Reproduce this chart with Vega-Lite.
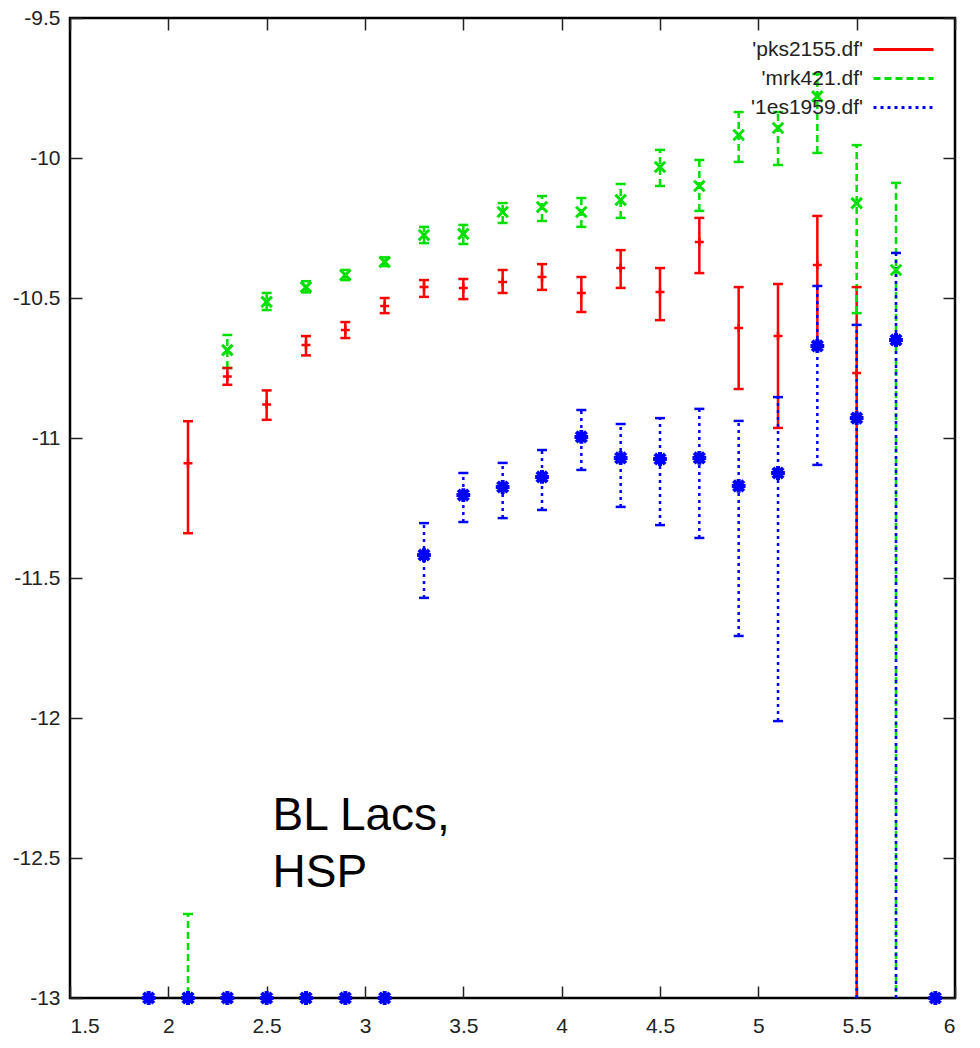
{
  "$schema": "https://vega.github.io/schema/vega-lite/v6.json",
  "width": 885,
  "height": 980,
  "autosize": {"type": "none"},
  "padding": {"left": 70, "top": 18, "right": 25, "bottom": 50},
  "background": "white",
  "config": {
    "locale": {"number": {"decimal": ".", "thousands": ",", "grouping": [3], "currency": ["$", ""], "minus": "-"}},
    "view": {"stroke": "black", "strokeWidth": 2.5},
    "axis": {"grid": false, "domain": false, "tickColor": "#222", "tickSize": -12, "tickWidth": 1.5, "labelFont": "Liberation Sans", "labelFontSize": 21, "labelColor": "#222", "title": null},
    "legend": {"labelFont": "Liberation Sans", "labelFontSize": 21, "labelColor": "#222", "labelLimit": 0, "title": null}
  },
  "datasets": {
    "obs": [
      {"series": "'pks2155.df'", "x": 2.1, "y": -11.09, "lo": -11.34, "hi": -10.94},
      {"series": "'pks2155.df'", "x": 2.3, "y": -10.78, "lo": -10.81, "hi": -10.75},
      {"series": "'pks2155.df'", "x": 2.5, "y": -10.88, "lo": -10.935, "hi": -10.83},
      {"series": "'pks2155.df'", "x": 2.7, "y": -10.668, "lo": -10.705, "hi": -10.636},
      {"series": "'pks2155.df'", "x": 2.9, "y": -10.614, "lo": -10.643, "hi": -10.586},
      {"series": "'pks2155.df'", "x": 3.1, "y": -10.529, "lo": -10.554, "hi": -10.5},
      {"series": "'pks2155.df'", "x": 3.3, "y": -10.461, "lo": -10.496, "hi": -10.436},
      {"series": "'pks2155.df'", "x": 3.5, "y": -10.464, "lo": -10.504, "hi": -10.432},
      {"series": "'pks2155.df'", "x": 3.7, "y": -10.443, "lo": -10.482, "hi": -10.4},
      {"series": "'pks2155.df'", "x": 3.9, "y": -10.425, "lo": -10.471, "hi": -10.379},
      {"series": "'pks2155.df'", "x": 4.1, "y": -10.482, "lo": -10.55, "hi": -10.425},
      {"series": "'pks2155.df'", "x": 4.3, "y": -10.393, "lo": -10.464, "hi": -10.329},
      {"series": "'pks2155.df'", "x": 4.5, "y": -10.479, "lo": -10.579, "hi": -10.393},
      {"series": "'pks2155.df'", "x": 4.7, "y": -10.3, "lo": -10.411, "hi": -10.214},
      {"series": "'pks2155.df'", "x": 4.9, "y": -10.607, "lo": -10.825, "hi": -10.461},
      {"series": "'pks2155.df'", "x": 5.1, "y": -10.636, "lo": -10.964, "hi": -10.45},
      {"series": "'pks2155.df'", "x": 5.3, "y": -10.382, "lo": -10.66, "hi": -10.207},
      {"series": "'pks2155.df'", "x": 5.5, "y": -10.768, "lo": -14, "hi": -10.461},
      {"series": "'mrk421.df'", "x": 2.1, "y": -13.0, "lo": -13.3, "hi": -12.7},
      {"series": "'mrk421.df'", "x": 2.3, "y": -10.686, "lo": -10.75, "hi": -10.632},
      {"series": "'mrk421.df'", "x": 2.5, "y": -10.514, "lo": -10.543, "hi": -10.482},
      {"series": "'mrk421.df'", "x": 2.7, "y": -10.461, "lo": -10.48, "hi": -10.44},
      {"series": "'mrk421.df'", "x": 2.9, "y": -10.418, "lo": -10.436, "hi": -10.4},
      {"series": "'mrk421.df'", "x": 3.1, "y": -10.371, "lo": -10.386, "hi": -10.355},
      {"series": "'mrk421.df'", "x": 3.3, "y": -10.275, "lo": -10.304, "hi": -10.246},
      {"series": "'mrk421.df'", "x": 3.5, "y": -10.271, "lo": -10.307, "hi": -10.239},
      {"series": "'mrk421.df'", "x": 3.7, "y": -10.193, "lo": -10.232, "hi": -10.161},
      {"series": "'mrk421.df'", "x": 3.9, "y": -10.175, "lo": -10.225, "hi": -10.136},
      {"series": "'mrk421.df'", "x": 4.1, "y": -10.193, "lo": -10.246, "hi": -10.143},
      {"series": "'mrk421.df'", "x": 4.3, "y": -10.15, "lo": -10.214, "hi": -10.093},
      {"series": "'mrk421.df'", "x": 4.5, "y": -10.032, "lo": -10.1, "hi": -9.971},
      {"series": "'mrk421.df'", "x": 4.7, "y": -10.1, "lo": -10.189, "hi": -10.007},
      {"series": "'mrk421.df'", "x": 4.9, "y": -9.918, "lo": -10.014, "hi": -9.836},
      {"series": "'mrk421.df'", "x": 5.1, "y": -9.893, "lo": -10.025, "hi": -9.836},
      {"series": "'mrk421.df'", "x": 5.3, "y": -9.78, "lo": -9.982, "hi": -9.7},
      {"series": "'mrk421.df'", "x": 5.5, "y": -10.161, "lo": -10.554, "hi": -9.954},
      {"series": "'mrk421.df'", "x": 5.7, "y": -10.4, "lo": -14, "hi": -10.089},
      {"series": "'1es1959.df'", "x": 1.9, "y": -13.0, "lo": null, "hi": null},
      {"series": "'1es1959.df'", "x": 2.1, "y": -13.0, "lo": null, "hi": null},
      {"series": "'1es1959.df'", "x": 2.3, "y": -13.0, "lo": null, "hi": null},
      {"series": "'1es1959.df'", "x": 2.5, "y": -13.0, "lo": null, "hi": null},
      {"series": "'1es1959.df'", "x": 2.7, "y": -13.0, "lo": null, "hi": null},
      {"series": "'1es1959.df'", "x": 2.9, "y": -13.0, "lo": null, "hi": null},
      {"series": "'1es1959.df'", "x": 3.1, "y": -13.0, "lo": null, "hi": null},
      {"series": "'1es1959.df'", "x": 3.3, "y": -11.418, "lo": -11.571, "hi": -11.304},
      {"series": "'1es1959.df'", "x": 3.5, "y": -11.204, "lo": -11.3, "hi": -11.125},
      {"series": "'1es1959.df'", "x": 3.7, "y": -11.175, "lo": -11.286, "hi": -11.089},
      {"series": "'1es1959.df'", "x": 3.9, "y": -11.139, "lo": -11.257, "hi": -11.043},
      {"series": "'1es1959.df'", "x": 4.1, "y": -10.996, "lo": -11.114, "hi": -10.9},
      {"series": "'1es1959.df'", "x": 4.3, "y": -11.071, "lo": -11.246, "hi": -10.95},
      {"series": "'1es1959.df'", "x": 4.5, "y": -11.075, "lo": -11.311, "hi": -10.929},
      {"series": "'1es1959.df'", "x": 4.7, "y": -11.071, "lo": -11.357, "hi": -10.896},
      {"series": "'1es1959.df'", "x": 4.9, "y": -11.171, "lo": -11.707, "hi": -10.939},
      {"series": "'1es1959.df'", "x": 5.1, "y": -11.125, "lo": -12.011, "hi": -10.854},
      {"series": "'1es1959.df'", "x": 5.3, "y": -10.671, "lo": -11.096, "hi": -10.457},
      {"series": "'1es1959.df'", "x": 5.5, "y": -10.929, "lo": -14, "hi": -10.596},
      {"series": "'1es1959.df'", "x": 5.7, "y": -10.65, "lo": -14, "hi": -10.339},
      {"series": "'1es1959.df'", "x": 5.9, "y": -13.0, "lo": null, "hi": null}
    ],
    "notes": [
      {"label": "BL Lacs,", "x": 2.53, "y": -12.4},
      {"label": "HSP", "x": 2.53, "y": -12.604}
    ]
  },
  "layer": [
    {
      "data": {"name": "obs"},
      "transform": [{"filter": "isValid(datum.lo)"}],
      "mark": {"type": "rule", "strokeWidth": 2.5, "clip": true},
      "encoding": {
        "x": {"field": "x", "type": "quantitative", "scale": {"domain": [1.5, 6], "nice": false, "zero": false},
              "axis": {"orient": "bottom", "values": [1.5, 2, 2.5, 3, 3.5, 4, 4.5, 5, 5.5, 6], "format": "~g", "labelPadding": 29}},
        "y": {"field": "lo", "type": "quantitative", "scale": {"domain": [-13, -9.5], "nice": false, "zero": false},
              "axis": {"orient": "left", "values": [-13, -12.5, -12, -11.5, -11, -10.5, -10, -9.5], "format": "~g", "labelPadding": 22}},
        "y2": {"field": "hi"},
        "color": {"field": "series", "type": "nominal",
                  "scale": {"domain": ["'pks2155.df'", "'mrk421.df'", "'1es1959.df'"], "range": ["#ff0000", "#00e000", "#0000ff"]},
                  "legend": {"orient": "none", "legendX": 822, "legendY": 20, "symbolType": "M-3,0L3,0", "symbolSize": 400, "symbolStrokeWidth": 3, "labelAlign": "right", "labelOffset": -52, "rowPadding": 7, "padding": 0}},
        "strokeDash": {"field": "series", "type": "nominal",
                  "scale": {"domain": ["'pks2155.df'", "'mrk421.df'", "'1es1959.df'"], "range": [[1, 0], [7, 4], [3, 4]]},
                  "legend": {"orient": "none", "legendX": 822, "legendY": 20, "symbolType": "M-3,0L3,0", "symbolSize": 400, "symbolStrokeWidth": 3, "labelAlign": "right", "labelOffset": -52, "rowPadding": 7, "padding": 0}}
      }
    },
    {
      "data": {"name": "obs"},
      "transform": [{"filter": "isValid(datum.lo)"}],
      "mark": {"type": "point", "shape": "M-1,0L1,0", "size": 100, "filled": false, "strokeWidth": 2.5, "opacity": 1, "clip": true},
      "encoding": {
        "x": {"field": "x", "type": "quantitative", "axis": {"orient": "top", "values": [1.5, 2, 2.5, 3, 3.5, 4, 4.5, 5, 5.5, 6], "labels": false}},
        "y": {"field": "lo", "type": "quantitative", "axis": {"orient": "right", "values": [-13, -12.5, -12, -11.5, -11, -10.5, -10, -9.5], "labels": false}},
        "color": {"field": "series", "type": "nominal", "legend": null}
      }
    },
    {
      "data": {"name": "obs"},
      "transform": [{"filter": "isValid(datum.hi)"}],
      "mark": {"type": "point", "shape": "M-1,0L1,0", "size": 100, "filled": false, "strokeWidth": 2.5, "opacity": 1, "clip": true},
      "encoding": {
        "x": {"field": "x", "type": "quantitative", "axis": null},
        "y": {"field": "hi", "type": "quantitative", "axis": null},
        "color": {"field": "series", "type": "nominal", "legend": null}
      }
    },
    {
      "data": {"name": "obs"},
      "transform": [{"filter": "datum.series === \"'pks2155.df'\""}],
      "mark": {"type": "point", "shape": "M-1,0L1,0M0,-1L0,1", "size": 80, "filled": false, "strokeWidth": 2.5, "opacity": 1},
      "encoding": {
        "x": {"field": "x", "type": "quantitative", "axis": null},
        "y": {"field": "y", "type": "quantitative", "axis": null},
        "color": {"field": "series", "type": "nominal", "legend": null}
      }
    },
    {
      "data": {"name": "obs"},
      "transform": [{"filter": "datum.series === \"'mrk421.df'\""}],
      "mark": {"type": "point", "shape": "M-1,-1L1,1M-1,1L1,-1", "size": 110, "filled": false, "strokeWidth": 3, "opacity": 1},
      "encoding": {
        "x": {"field": "x", "type": "quantitative", "axis": null},
        "y": {"field": "y", "type": "quantitative", "axis": null},
        "color": {"field": "series", "type": "nominal", "legend": null}
      }
    },
    {
      "data": {"name": "obs"},
      "transform": [{"filter": "datum.series === \"'1es1959.df'\""}],
      "mark": {"type": "point", "shape": "M-1,0L1,0M0,-1L0,1M-0.75,-0.75L0.75,0.75M-0.75,0.75L0.75,-0.75", "size": 190, "filled": false, "strokeWidth": 4, "opacity": 1},
      "encoding": {
        "x": {"field": "x", "type": "quantitative", "axis": null},
        "y": {"field": "y", "type": "quantitative", "axis": null},
        "color": {"field": "series", "type": "nominal", "legend": null}
      }
    },
    {
      "data": {"name": "notes"},
      "mark": {"type": "text", "font": "Liberation Sans", "fontSize": 46, "align": "left", "baseline": "alphabetic", "color": "black"},
      "encoding": {
        "x": {"field": "x", "type": "quantitative", "axis": null},
        "y": {"field": "y", "type": "quantitative", "axis": null},
        "text": {"field": "label", "type": "nominal"}
      }
    }
  ],
  "resolve": {"axis": {"x": "independent", "y": "independent"}}
}
